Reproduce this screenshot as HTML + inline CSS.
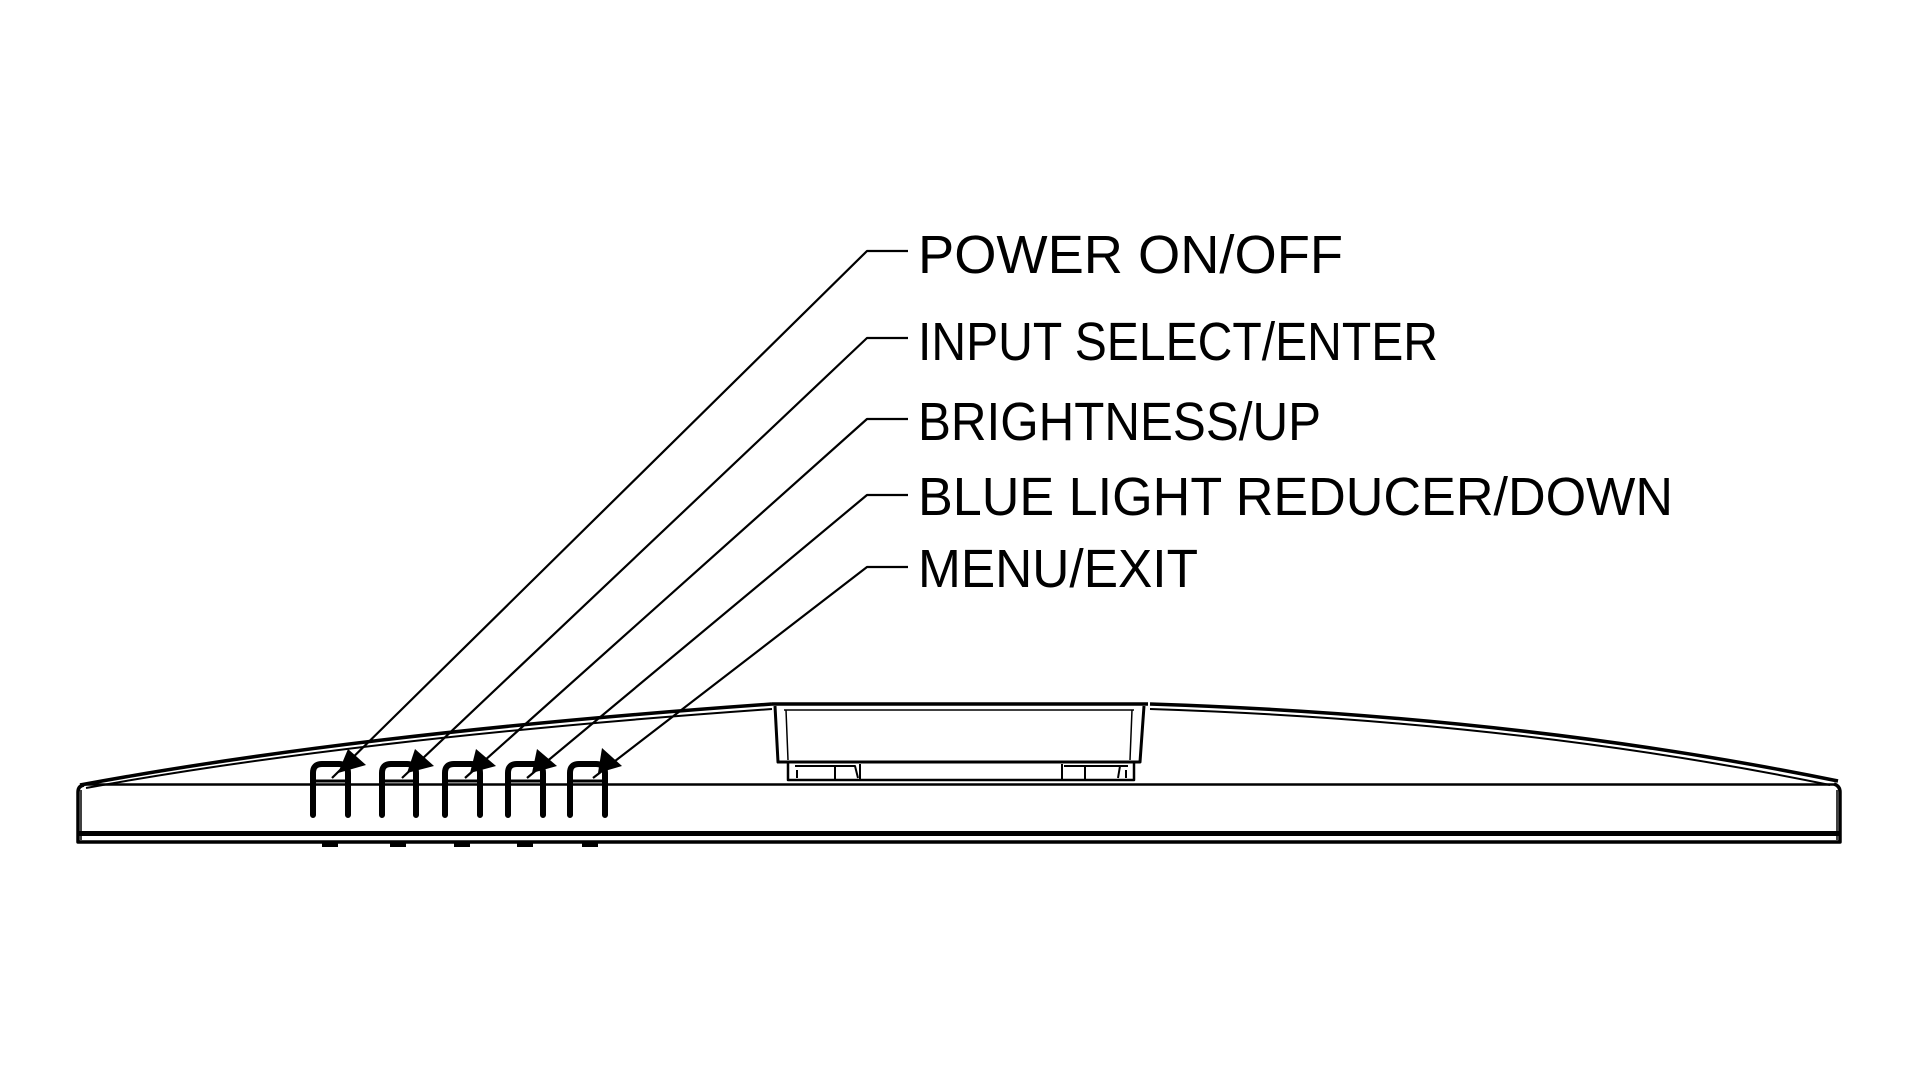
<!DOCTYPE html>
<html><head><meta charset="utf-8"><style>
html,body{margin:0;padding:0;background:#fff;}
svg{display:block;}
text{font-family:"Liberation Sans",sans-serif;font-size:54px;fill:#000;}
</style></head><body>
<svg width="1920" height="1080" viewBox="0 0 1920 1080" xmlns="http://www.w3.org/2000/svg">
<g fill="none" stroke="#000" stroke-linejoin="round">
  <path d="M80,785 Q360,733 772,704" stroke-width="3.5"/>
  <path d="M86,788 Q360,738 772,709" stroke-width="2"/>
  <path d="M1150,704 Q1520,716 1838,781" stroke-width="3.5"/>
  <path d="M1150,709 Q1520,721 1830,785" stroke-width="2"/>
  <path d="M84,785 Q78,786 78,792 L78,842 L1840,842 L1840,792 Q1840,786 1834,784" stroke-width="3.5"/>
  <line x1="81" y1="790" x2="81" y2="840" stroke-width="1.5"/>
  <line x1="1837" y1="790" x2="1837" y2="840" stroke-width="1.5"/>
  <line x1="82" y1="784.5" x2="1836" y2="784.5" stroke-width="2.5"/>
  <line x1="78" y1="833.5" x2="1840" y2="833.5" stroke-width="5"/>
  <g stroke-width="4">
    <line x1="322" y1="845" x2="338" y2="845"/>
    <line x1="390" y1="845" x2="406" y2="845"/>
    <line x1="454" y1="845" x2="470" y2="845"/>
    <line x1="517" y1="845" x2="533" y2="845"/>
    <line x1="582" y1="845" x2="598" y2="845"/>
  </g>
  <path d="M772,704 L1148,704" stroke-width="3.5"/>
  <path d="M775,706 L778,762 L1140,762 L1144,706" stroke-width="3"/>
  <path d="M786,710 L788,760 M1132,710 L1130,760 M784,710 L1134,710" stroke-width="1.5"/>
  <path d="M788,762 L788,780 L1134,780 L1134,762" stroke-width="2.5"/>
  <path d="M795,766 L855,766 L858,778 M835,766 L835,780 M860,764 L860,780 M1062,764 L1062,780 M1085,766 L1085,780 M1064,766 L1128,766 M1120,766 L1118,778 M797,770 L797,778 M1126,770 L1126,778" stroke-width="2"/>
  <g stroke-width="6" stroke-linecap="round">
    <path d="M313,815 L313,773 Q313,764 322,764 L339,764 Q348,764 348,773 L348,815"/>
    <path d="M382,815 L382,773 Q382,764 391,764 L407,764 Q416,764 416,773 L416,815"/>
    <path d="M445,815 L445,773 Q445,764 454,764 L471,764 Q480,764 480,773 L480,815"/>
    <path d="M508,815 L508,773 Q508,764 517,764 L534,764 Q543,764 543,773 L543,815"/>
    <path d="M570,815 L570,773 Q570,764 579,764 L596,764 Q605,764 605,773 L605,815"/>
  </g>
  <g stroke-width="3" stroke-linecap="round">
    <line x1="316" y1="781" x2="345" y2="781"/>
    <line x1="385" y1="781" x2="413" y2="781"/>
    <line x1="448" y1="781" x2="477" y2="781"/>
    <line x1="511" y1="781" x2="540" y2="781"/>
    <line x1="573" y1="781" x2="602" y2="781"/>
  </g>
  <g stroke-width="2.2">
    <path d="M908,251 L867,251 L332,778"/>
    <path d="M908,338 L867,338 L402,778"/>
    <path d="M908,419 L867,419 L465,778"/>
    <path d="M908,495 L867,495 L527,778"/>
    <path d="M908,567 L867,567 L593,778"/>
  </g>
</g>
<g fill="#000">
  <polygon points="338,773 348,749 366,765"/>
  <polygon points="407,773 415,749 434,766"/>
  <polygon points="470,773 476,749 496,766"/>
  <polygon points="532,773 537,749 557,766"/>
  <polygon points="598,773 602,748 622,766"/>
</g>
<text x="918" y="273" textLength="425" lengthAdjust="spacingAndGlyphs">POWER ON/OFF</text>
<text x="918" y="360" textLength="520" lengthAdjust="spacingAndGlyphs">INPUT SELECT/ENTER</text>
<text x="918" y="440" textLength="403" lengthAdjust="spacingAndGlyphs">BRIGHTNESS/UP</text>
<text x="918" y="515" textLength="755" lengthAdjust="spacingAndGlyphs">BLUE LIGHT REDUCER/DOWN</text>
<text x="918" y="587" textLength="280" lengthAdjust="spacingAndGlyphs">MENU/EXIT</text>
</svg>
</body></html>
